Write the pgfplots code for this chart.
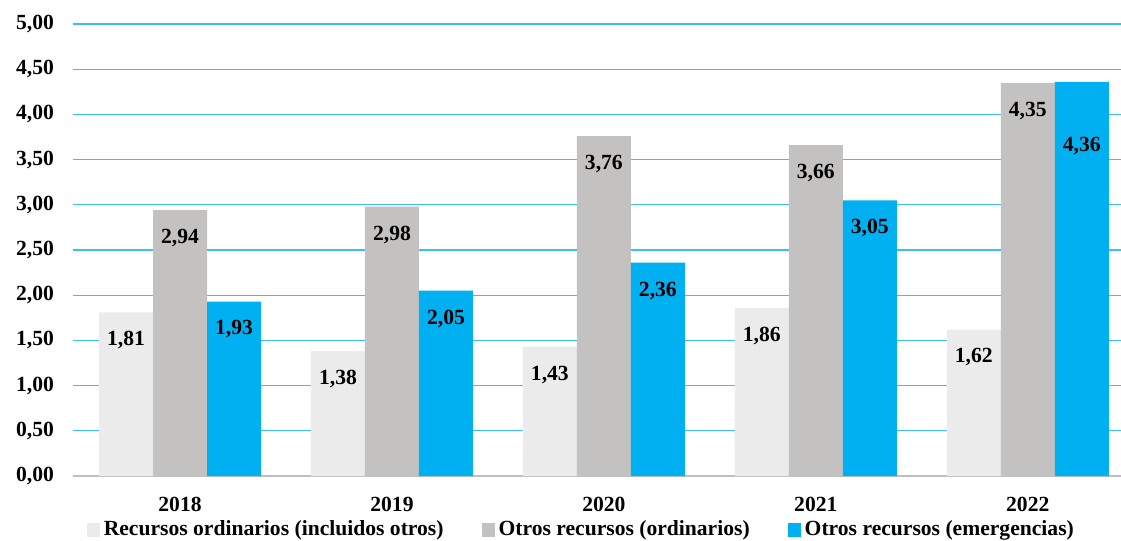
\documentclass[border=0pt]{standalone}
\usepackage{pgfplots}
\pgfplotsset{compat=1.18}
\usepackage{fontspec}
\setmainfont{Liberation Serif}

\definecolor{cLight}{RGB}{235,235,235}
\definecolor{cGray}{RGB}{196,194,192}
\definecolor{cCyan}{RGB}{0,176,240}
\definecolor{cGrid}{RGB}{60,190,240}

\newcommand{\chartfont}{\fontsize{10.8}{13}\selectfont\bfseries}

\begin{document}
\begin{tikzpicture}
\begin{axis}[
  scale only axis,
  width=524pt, height=226pt,
  ybar=0pt, bar width=27pt,
  xmin=-0.505, xmax=4.44,
  ymin=0, ymax=5,
  ytick={0,0.5,...,5},
  xtick={0,1,2,3,4},
  xticklabels={2018,2019,2020,2021,2022},
  major tick length=0pt,
  axis x line*=bottom, axis y line*=left,
  y axis line style={draw=none},
  x axis line style={draw=black!25, line width=1.2pt, -},
  ymajorgrids,
  grid style={cGrid, line width=0.6pt},
  font=\chartfont,
  /pgf/number format/assume math mode=true,
  /pgf/number format/fixed,
  /pgf/number format/fixed zerofill,
  /pgf/number format/precision=2,
  /pgf/number format/use comma,
  yticklabel style={xshift=-6pt},
  xticklabel style={yshift=-7pt},
  nodes near coords,
  nodes near coords style={anchor=north, yshift=-6pt, font=\chartfont},
  legend style={at={(axis description cs:0.486,0)}, anchor=center, yshift=-27pt,
    draw=none, fill=none, legend columns=-1, font=\chartfont,
    /tikz/every even column/.append style={column sep=17pt}},
  legend image code/.code={\fill[#1] (0pt,-3.3pt) rectangle (6.5pt,3.3pt);},
]
\addplot[fill=cLight, draw=none] coordinates {(0,1.81)(1,1.38)(2,1.43)(3,1.86)(4,1.62)};
\addplot[fill=cGray, draw=none] coordinates {(0,2.94)(1,2.98)(2,3.76)(3,3.66)(4,4.35)};
\addplot[fill=cCyan, draw=none,
  coordinate style/.condition={\coordindex==4}{yshift=-18pt}]
  coordinates {(0,1.93)(1,2.05)(2,2.36)(3,3.05)(4,4.36)};
\legend{Recursos ordinarios (incluidos otros),Otros recursos (ordinarios),Otros recursos (emergencias)}
\end{axis}
\pgfresetboundingbox
\path[use as bounding box] ([xshift=-36.5pt,yshift=-32.5pt]current axis.south west) rectangle ([yshift=12pt]current axis.north east);
\end{tikzpicture}
\end{document}
